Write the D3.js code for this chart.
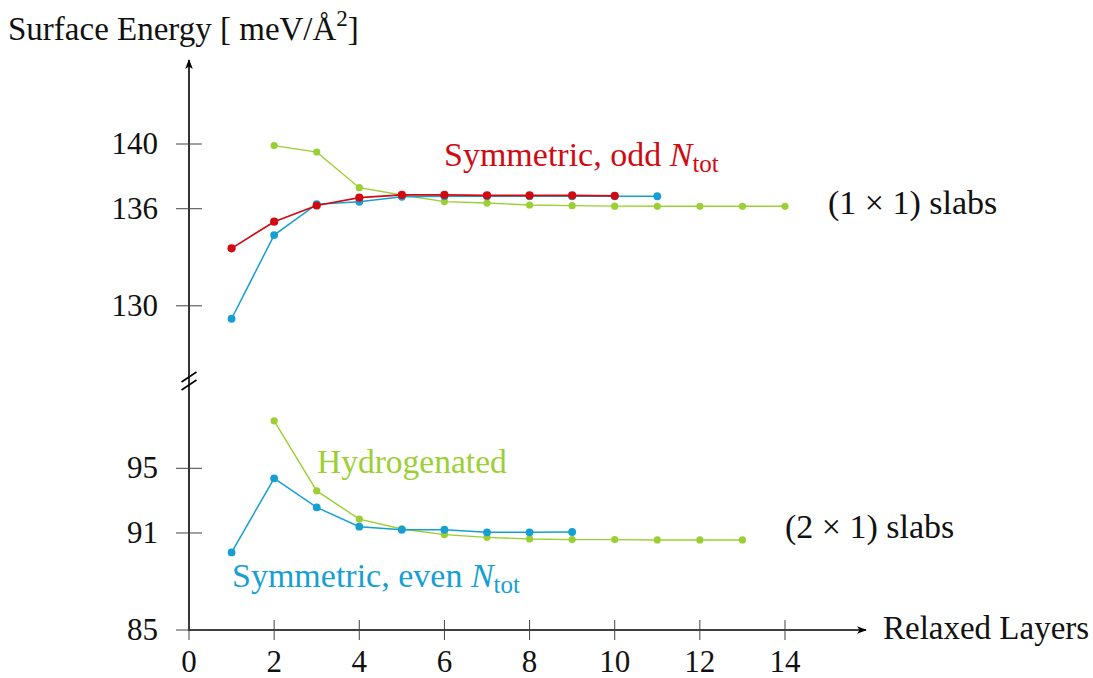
<!DOCTYPE html>
<html>
<head>
<meta charset="utf-8">
<script src="https://cdn.jsdelivr.net/npm/d3@7"></script>
<style>
  html, body { margin: 0; padding: 0; background: #fff; }
  svg { display: block; }
  text { font-family: "Liberation Serif", "DejaVu Serif", serif; fill: #111; }
</style>
</head>
<body>
<svg id="chart" width="1093" height="678"></svg>
<script>
// Relaxed layers on the x axis
const layers = [1, 2, 3, 4, 5, 6, 7, 8, 9, 10, 11, 12, 13, 14];

// (1 x 1) slabs, surface energy in meV/Å^2
const oddSym1x1  = [133.55, 135.2, 136.2, 136.68, 136.85, 136.85, 136.82, 136.82, 136.82, 136.8];            // x = 1..10
const evenSym1x1 = [129.2, 134.37, 136.28, 136.43, 136.74, 136.77, 136.77, 136.77, 136.77, 136.77, 136.77];  // x = 1..11
const hydro1x1   = [139.9, 139.5, 137.3, 136.85, 136.44, 136.35, 136.23, 136.19, 136.16, 136.15, 136.15, 136.15, 136.15]; // x = 2..14

// (2 x 1) slabs
const evenSym2x1 = [89.8, 94.38, 92.58, 91.39, 91.2, 91.2, 91.04, 91.04, 91.06];  // x = 1..9
const hydro2x1   = [97.93, 93.6, 91.86, 91.25, 90.9, 90.73, 90.63, 90.59, 90.59, 90.57, 90.57, 90.57]; // x = 2..13

const xTicks = [0, 2, 4, 6, 8, 10, 12, 14];
const yTicksTop = [130, 136, 140];
const yTicksBottom = [85, 91, 95];

const colors = { red: "#d10a12", blue: "#159fd3", green: "#9bcf33" };

const svg = d3.select("#chart");

// Shared x scale, two stacked y scales separated by an axis break
const x = d3.scaleLinear().domain([0, 14]).range([189, 785]);
const yTop = d3.scaleLinear().domain([130, 140]).range([305.8, 144]);
const yBot = d3.scaleLinear().domain([85, 95]).range([630, 468.3]);

const axisY = 630;
const axisX = x(0);
const breakY = 381;

// Axis lines with arrow heads
const defs = svg.append("defs");
defs.append("marker")
  .attr("id", "arrow").attr("viewBox", "0 0 10 10")
  .attr("refX", 9).attr("refY", 5)
  .attr("markerWidth", 10).attr("markerHeight", 10)
  .attr("markerUnits", "userSpaceOnUse")
  .attr("orient", "auto")
  .append("path").attr("d", "M0,1.2 L10,5 L0,8.8 L2.6,5 Z").attr("fill", "#000");

// x axis
svg.append("line")
  .attr("x1", axisX - 1).attr("y1", axisY).attr("x2", 866).attr("y2", axisY)
  .attr("stroke", "#000").attr("stroke-width", 1.6)
  .attr("marker-end", "url(#arrow)");

// y axis
svg.append("line")
  .attr("x1", axisX).attr("y1", axisY + 1).attr("x2", axisX).attr("y2", 60)
  .attr("stroke", "#000").attr("stroke-width", 1.6)
  .attr("marker-end", "url(#arrow)");

// axis break marks
[-4, 4].forEach(dy => {
  svg.append("line")
    .attr("x1", axisX - 7.5).attr("y1", breakY + dy + 5)
    .attr("x2", axisX + 7.5).attr("y2", breakY + dy - 5)
    .attr("stroke", "#000").attr("stroke-width", 1.6);
});

// x ticks
const xTickG = svg.append("g");
xTickG.selectAll("line").data(xTicks).join("line")
  .attr("x1", d => x(d)).attr("x2", d => x(d))
  .attr("y1", axisY - 10).attr("y2", axisY + 10)
  .attr("stroke", "#444").attr("stroke-width", 1);
xTickG.selectAll("text").data(xTicks).join("text")
  .attr("x", d => x(d)).attr("y", 672)
  .attr("text-anchor", "middle")
  .style("font-size", "31px")
  .text(d => d);

// y ticks (both segments)
function yTicks(values, scale) {
  const g = svg.append("g");
  g.selectAll("line").data(values).join("line")
    .attr("x1", axisX - 13).attr("x2", axisX + 13)
    .attr("y1", d => scale(d)).attr("y2", d => scale(d))
    .attr("stroke", "#444").attr("stroke-width", 1);
  g.selectAll("text").data(values).join("text")
    .attr("x", 158).attr("y", d => scale(d) + 10)
    .attr("text-anchor", "end")
    .style("font-size", "31px")
    .text(d => d);
}
yTicks(yTicksTop, yTop);
yTicks(yTicksBottom, yBot);

// Series
function series(values, startX, scale, color, r, w) {
  const pts = values.map((v, i) => ({ l: layers[startX - 1 + i], v }));
  const line = d3.line().x(d => x(d.l)).y(d => scale(d.v));
  const g = svg.append("g");
  g.append("path").datum(pts)
    .attr("d", line).attr("fill", "none")
    .attr("stroke", color).attr("stroke-width", w);
  g.selectAll("circle").data(pts).join("circle")
    .attr("cx", d => x(d.l)).attr("cy", d => scale(d.v))
    .attr("r", r).attr("fill", color);
}

series(hydro1x1, 2, yTop, colors.green, 3.6, 1.4);
series(evenSym1x1, 1, yTop, colors.blue, 3.9, 1.5);
series(oddSym1x1, 1, yTop, colors.red, 4.1, 1.7);

series(hydro2x1, 2, yBot, colors.green, 3.6, 1.4);
series(evenSym2x1, 1, yBot, colors.blue, 3.9, 1.5);

// Axis titles
const title = svg.append("text").attr("x", 8).attr("y", 40).style("font-size", "33px");
title.append("tspan").text("Surface Energy [ meV/Å");
title.append("tspan").attr("dy", -14).style("font-size", "23px").text("2");
title.append("tspan").attr("dy", 14).text("]");

svg.append("text").attr("x", 883).attr("y", 639).style("font-size", "33px").text("Relaxed Layers");

// Series annotations
function ntotLabel(xp, yp, prefix, color) {
  const t = svg.append("text").attr("x", xp).attr("y", yp)
    .style("font-size", "34px").style("fill", color);
  t.append("tspan").text(prefix);
  t.append("tspan").style("font-style", "italic").text("N");
  t.append("tspan").attr("dy", 6).style("font-size", "25px").text("tot");
}
ntotLabel(444, 166, "Symmetric, odd ", colors.red);
ntotLabel(232, 587, "Symmetric, even ", colors.blue);

svg.append("text").attr("x", 317).attr("y", 473)
  .style("font-size", "33.5px").style("fill", colors.green).text("Hydrogenated");

svg.append("text").attr("x", 828).attr("y", 214).style("font-size", "34px").text("(1 × 1) slabs");
svg.append("text").attr("x", 785).attr("y", 538).style("font-size", "34px").text("(2 × 1) slabs");
</script>
</body>
</html>
